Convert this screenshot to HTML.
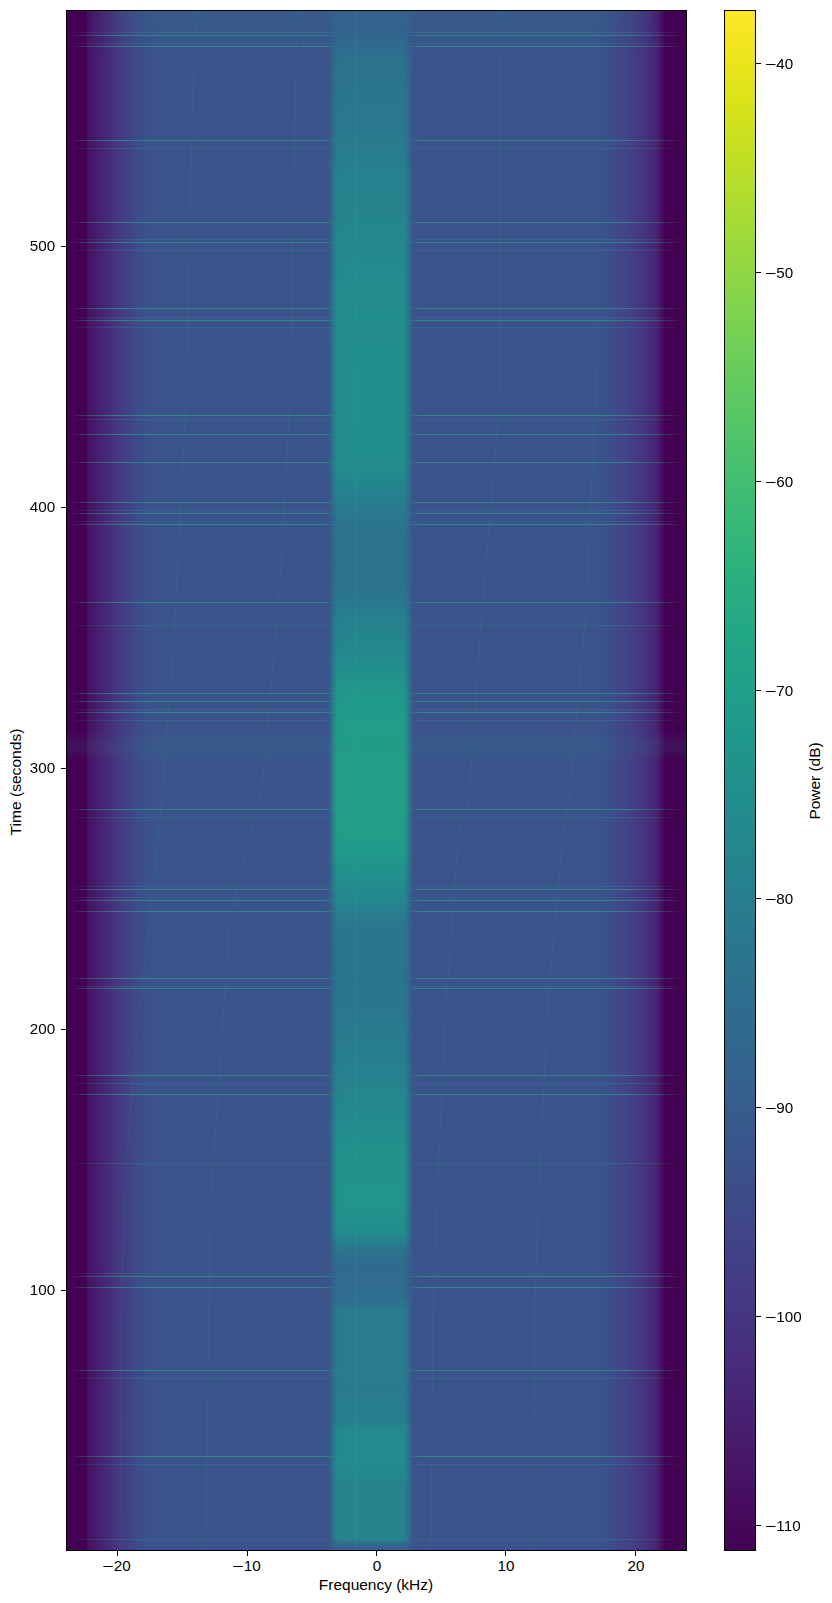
<!DOCTYPE html><html><head><meta charset="utf-8"><style>
html,body{margin:0;padding:0;background:#fff;width:832px;height:1603px;overflow:hidden;position:relative}
.t{position:absolute;font-family:"Liberation Sans",sans-serif;font-size:14.5px;color:#000;line-height:1;white-space:nowrap}
.k{position:absolute;background:#000}
.a{position:absolute}
.ln{position:absolute;left:0;width:619px;height:1px;-webkit-mask-image:linear-gradient(to right,rgba(0,0,0,0) 3px,rgba(0,0,0,.5) 15px,#000 50px,#000 258px,rgba(0,0,0,.15) 268px,rgba(0,0,0,.15) 342px,#000 352px,#000 560px,rgba(0,0,0,.5) 600px,rgba(0,0,0,0) 615px);mask-image:linear-gradient(to right,rgba(0,0,0,0) 3px,rgba(0,0,0,.5) 15px,#000 50px,#000 258px,rgba(0,0,0,.15) 268px,rgba(0,0,0,.15) 342px,#000 352px,#000 560px,rgba(0,0,0,.5) 600px,rgba(0,0,0,0) 615px)}
.s1{background:#2d9a89;opacity:.7}
.s2{background:#2c958b;opacity:.3}
.m{display:inline-block;width:8.4px;height:1.2px;background:#000;vertical-align:middle;margin:0 1.3px 0 0.2px;position:relative;top:-0.6px}
#plot{position:absolute;left:67px;top:11px;width:619px;height:1539px;overflow:hidden}
#frame{position:absolute;left:66px;top:10px;width:619px;height:1539px;border:1px solid #000}
#cbar{position:absolute;left:725px;top:11px;width:30px;height:1539px}
#cframe{position:absolute;left:724px;top:10px;width:30px;height:1539px;border:1px solid #000}
</style></head><body>

<div id="cbar" style="background:linear-gradient(to bottom,#fde725 0.00%,#ece51b 3.12%,#d8e219 6.25%,#c2df23 9.38%,#addc30 12.50%,#98d83e 15.62%,#84d44b 18.75%,#70cf57 21.88%,#5ec962 25.00%,#4ec36b 28.12%,#3fbc73 31.25%,#32b67a 34.38%,#28ae80 37.50%,#22a785 40.62%,#1fa088 43.75%,#1f988b 46.88%,#21918c 50.00%,#23898e 53.12%,#26828e 56.25%,#297a8e 59.38%,#2c728e 62.50%,#2f6b8e 65.62%,#33638d 68.75%,#375b8d 71.88%,#3b528b 75.00%,#3e4989 78.12%,#424086 81.25%,#453781 84.38%,#472d7b 87.50%,#482374 90.62%,#48186a 93.75%,#470d60 96.88%,#440154 100.00%)"></div>
<div id="cframe"></div>
<div id="plot">
<div class="a" style="left:0;top:0;width:619px;height:1539px;background:linear-gradient(to right,#440154 0.50px,#440154 11.50px,#440154 19.50px,#471164 20.50px,#471e6f 30.50px,#462e7b 43.50px,#433d83 55.50px,#3e4988 68.50px,#3b518a 81.50px,#3a548b 91.50px,#3a548b 526.50px,#3b508a 538.50px,#3f4888 550.50px,#433d83 568.50px,#45317d 580.50px,#472171 590.50px,#460d60 595.50px,#440154 597.50px,#440154 598.50px,#440154 618.50px)"></div>
<div class="a" style="left:259px;top:0;width:90px;height:1539px;background:linear-gradient(to bottom,#355e8d 0px,#355e8d 4px,#355f8d 8px,#355f8d 12px,#34608d 16px,#34618d 20px,#33638d 24px,#32668d 28px,#31688e 32px,#306b8e 36px,#2e6d8e 40px,#2d6f8e 44px,#2c728e 48px,#2c738e 52px,#2c738e 56px,#2c738e 60px,#2c748e 64px,#2c748e 68px,#2b748e 72px,#2b758e 76px,#2b758e 80px,#2b758e 84px,#2b758e 88px,#2b768e 92px,#2b768e 96px,#2a778e 100px,#2a778e 104px,#2a788e 108px,#2a788e 112px,#2a798e 116px,#29798e 120px,#297a8e 124px,#297a8e 128px,#297b8e 132px,#287c8e 136px,#287d8e 140px,#287e8e 144px,#277f8e 148px,#27808e 152px,#27808e 156px,#26818e 160px,#26818e 164px,#26828e 168px,#26828e 172px,#26828e 176px,#26838e 180px,#26838e 184px,#26838e 188px,#25838e 192px,#25848e 196px,#25848e 200px,#25858e 204px,#25858e 208px,#25858d 212px,#25868d 216px,#24868d 220px,#24878d 224px,#24878d 228px,#24878d 232px,#24888d 236px,#24888d 240px,#24898d 244px,#23898d 248px,#238a8d 252px,#238a8d 256px,#238a8d 260px,#238b8d 264px,#238b8d 268px,#238b8d 272px,#238c8d 276px,#238c8d 280px,#238c8d 284px,#238c8d 288px,#228c8d 292px,#228c8d 296px,#228c8d 300px,#228d8d 304px,#228d8d 308px,#228d8d 312px,#228d8c 316px,#228d8c 320px,#228d8c 324px,#228d8c 328px,#228e8c 332px,#228e8c 336px,#228e8c 340px,#228e8c 344px,#228e8c 348px,#228e8c 352px,#228e8c 356px,#228f8c 360px,#228f8c 364px,#228f8c 368px,#228f8c 372px,#228f8c 376px,#228f8c 380px,#228f8c 384px,#228f8c 388px,#228f8c 392px,#228f8c 396px,#228f8c 400px,#228f8c 404px,#228f8c 408px,#228f8c 412px,#228f8c 416px,#228e8c 420px,#228e8c 424px,#228e8c 428px,#228e8c 432px,#228e8c 436px,#228e8c 440px,#228e8c 444px,#228d8c 448px,#228d8c 452px,#228d8c 456px,#228c8d 460px,#238a8d 464px,#24888d 468px,#24868d 472px,#25848e 476px,#26828e 480px,#27808e 484px,#277e8e 488px,#287c8e 492px,#297a8e 496px,#2a798e 500px,#2a778e 504px,#2b758e 508px,#2b748e 512px,#2c748e 516px,#2c748e 520px,#2c748e 524px,#2c738e 528px,#2c738e 532px,#2c738e 536px,#2c738e 540px,#2c738e 544px,#2c738e 548px,#2c728e 552px,#2c738e 556px,#2c738e 560px,#2c738e 564px,#2c738e 568px,#2c748e 572px,#2c748e 576px,#2c748e 580px,#2b748e 584px,#2a778e 588px,#29798e 592px,#287c8e 596px,#277e8e 600px,#26818e 604px,#26818e 608px,#26828e 612px,#26838e 616px,#25848e 620px,#25858e 624px,#25868d 628px,#24868d 632px,#24878d 636px,#24888d 640px,#238a8d 644px,#238b8d 648px,#228d8d 652px,#228e8c 656px,#21908c 660px,#21928c 664px,#21938b 668px,#21958b 672px,#20968a 676px,#20988a 680px,#20988a 684px,#20998a 688px,#20998a 692px,#209a89 696px,#209a89 700px,#209b89 704px,#209c89 708px,#209c89 712px,#219d88 716px,#219d88 720px,#219e88 724px,#219e88 728px,#219f88 732px,#219f88 736px,#219f88 740px,#219f87 744px,#219f87 748px,#219f87 752px,#219f87 756px,#219f87 760px,#21a087 764px,#21a087 768px,#21a087 772px,#21a087 776px,#21a087 780px,#21a087 784px,#21a087 788px,#21a087 792px,#21a087 796px,#219f87 800px,#219f88 804px,#219e88 808px,#219e88 812px,#219d88 816px,#219d88 820px,#219d88 824px,#209c89 828px,#209c89 832px,#209b89 836px,#209b89 840px,#20998a 844px,#20978a 848px,#20968b 852px,#21948b 856px,#21928b 860px,#21918c 864px,#228f8c 868px,#228d8c 872px,#238c8d 876px,#238a8d 880px,#24888d 884px,#24878d 888px,#25858e 892px,#26838e 896px,#27808e 900px,#287d8e 904px,#297a8e 908px,#2a778e 912px,#2b768e 916px,#2b768e 920px,#2b768e 924px,#2b768e 928px,#2b758e 932px,#2b758e 936px,#2b758e 940px,#2b758e 944px,#2b758e 948px,#2b758e 952px,#2b758e 956px,#2b758e 960px,#2b748e 964px,#2b748e 968px,#2b748e 972px,#2b758e 976px,#2b758e 980px,#2b758e 984px,#2b768e 988px,#2b768e 992px,#2b768e 996px,#2a778e 1000px,#2a788e 1004px,#2a788e 1008px,#29798e 1012px,#297a8e 1016px,#297b8e 1020px,#287b8e 1024px,#287c8e 1028px,#287d8e 1032px,#287e8e 1036px,#277e8e 1040px,#277f8e 1044px,#277f8e 1048px,#27808e 1052px,#26818e 1056px,#26818e 1060px,#26828e 1064px,#26838e 1068px,#25838e 1072px,#25848e 1076px,#25858e 1080px,#25868d 1084px,#24868d 1088px,#24878d 1092px,#24888d 1096px,#24898d 1100px,#23898d 1104px,#238a8d 1108px,#238b8d 1112px,#228c8d 1116px,#228d8c 1120px,#228e8c 1124px,#228f8c 1128px,#21908c 1132px,#21928c 1136px,#21928b 1140px,#21928b 1144px,#21938b 1148px,#21938b 1152px,#21938b 1156px,#21938b 1160px,#21938b 1164px,#21938b 1168px,#21938b 1172px,#21948b 1176px,#21948b 1180px,#21948b 1184px,#21948b 1188px,#21948b 1192px,#21938b 1196px,#21928c 1200px,#21918c 1204px,#21918c 1208px,#21908c 1212px,#228f8c 1216px,#228d8c 1220px,#24888d 1224px,#26838e 1228px,#277e8e 1232px,#29798e 1236px,#2c748e 1240px,#2d718e 1244px,#2e6f8e 1248px,#2f6c8e 1252px,#2f6b8e 1256px,#2f6b8e 1260px,#2f6c8e 1264px,#2f6c8e 1268px,#2f6c8e 1272px,#2f6c8e 1276px,#2f6d8e 1280px,#2f6d8e 1284px,#2e6e8e 1288px,#2c738e 1292px,#2a788e 1296px,#297b8e 1300px,#297b8e 1304px,#297b8e 1308px,#297b8e 1312px,#297b8e 1316px,#297b8e 1320px,#297b8e 1324px,#297b8e 1328px,#297b8e 1332px,#297b8e 1336px,#297b8e 1340px,#297b8e 1344px,#297b8e 1348px,#297b8e 1352px,#297b8e 1356px,#297b8e 1360px,#297b8e 1364px,#297b8e 1368px,#297b8e 1372px,#287b8e 1376px,#287c8e 1380px,#287c8e 1384px,#287d8e 1388px,#287d8e 1392px,#287e8e 1396px,#287e8e 1400px,#277e8e 1404px,#277f8e 1408px,#26818e 1412px,#25858e 1416px,#24888d 1420px,#238b8d 1424px,#238b8d 1428px,#238b8d 1432px,#238b8d 1436px,#238b8d 1440px,#238b8d 1444px,#238b8d 1448px,#238b8d 1452px,#238a8d 1456px,#24888d 1460px,#24878d 1464px,#25858e 1468px,#25848e 1472px,#25848e 1476px,#25848e 1480px,#25848e 1484px,#25848e 1488px,#25848e 1492px,#25848e 1496px,#25848e 1500px,#25848e 1504px,#25848e 1508px,#25848e 1512px,#25848e 1516px,#25848e 1520px,#25848e 1524px,#25848e 1528px,#2d708e 1532px,#34618d 1536px);-webkit-mask-image:linear-gradient(to right,rgba(0,0,0,0.00) 0px,rgba(0,0,0,0.02) 2px,rgba(0,0,0,0.18) 4px,rgba(0,0,0,0.43) 6px,rgba(0,0,0,0.70) 8px,rgba(0,0,0,0.91) 10px,rgba(0,0,0,1.00) 12px,rgba(0,0,0,1.00) 14px,rgba(0,0,0,1.00) 16px,rgba(0,0,0,1.00) 18px,rgba(0,0,0,1.00) 20px,rgba(0,0,0,1.00) 22px,rgba(0,0,0,1.00) 24px,rgba(0,0,0,1.00) 26px,rgba(0,0,0,1.00) 28px,rgba(0,0,0,1.00) 30px,rgba(0,0,0,1.00) 32px,rgba(0,0,0,1.00) 34px,rgba(0,0,0,1.00) 36px,rgba(0,0,0,1.00) 38px,rgba(0,0,0,1.00) 40px,rgba(0,0,0,1.00) 42px,rgba(0,0,0,1.00) 44px,rgba(0,0,0,1.00) 46px,rgba(0,0,0,1.00) 48px,rgba(0,0,0,1.00) 50px,rgba(0,0,0,1.00) 52px,rgba(0,0,0,1.00) 54px,rgba(0,0,0,1.00) 56px,rgba(0,0,0,1.00) 58px,rgba(0,0,0,1.00) 60px,rgba(0,0,0,1.00) 62px,rgba(0,0,0,1.00) 64px,rgba(0,0,0,1.00) 66px,rgba(0,0,0,1.00) 68px,rgba(0,0,0,1.00) 70px,rgba(0,0,0,1.00) 72px,rgba(0,0,0,1.00) 74px,rgba(0,0,0,1.00) 76px,rgba(0,0,0,0.98) 78px,rgba(0,0,0,0.84) 80px,rgba(0,0,0,0.62) 82px,rgba(0,0,0,0.38) 84px,rgba(0,0,0,0.16) 86px,rgba(0,0,0,0.02) 88px,rgba(0,0,0,0.00) 90px);mask-image:linear-gradient(to right,rgba(0,0,0,0.00) 0px,rgba(0,0,0,0.02) 2px,rgba(0,0,0,0.18) 4px,rgba(0,0,0,0.43) 6px,rgba(0,0,0,0.70) 8px,rgba(0,0,0,0.91) 10px,rgba(0,0,0,1.00) 12px,rgba(0,0,0,1.00) 14px,rgba(0,0,0,1.00) 16px,rgba(0,0,0,1.00) 18px,rgba(0,0,0,1.00) 20px,rgba(0,0,0,1.00) 22px,rgba(0,0,0,1.00) 24px,rgba(0,0,0,1.00) 26px,rgba(0,0,0,1.00) 28px,rgba(0,0,0,1.00) 30px,rgba(0,0,0,1.00) 32px,rgba(0,0,0,1.00) 34px,rgba(0,0,0,1.00) 36px,rgba(0,0,0,1.00) 38px,rgba(0,0,0,1.00) 40px,rgba(0,0,0,1.00) 42px,rgba(0,0,0,1.00) 44px,rgba(0,0,0,1.00) 46px,rgba(0,0,0,1.00) 48px,rgba(0,0,0,1.00) 50px,rgba(0,0,0,1.00) 52px,rgba(0,0,0,1.00) 54px,rgba(0,0,0,1.00) 56px,rgba(0,0,0,1.00) 58px,rgba(0,0,0,1.00) 60px,rgba(0,0,0,1.00) 62px,rgba(0,0,0,1.00) 64px,rgba(0,0,0,1.00) 66px,rgba(0,0,0,1.00) 68px,rgba(0,0,0,1.00) 70px,rgba(0,0,0,1.00) 72px,rgba(0,0,0,1.00) 74px,rgba(0,0,0,1.00) 76px,rgba(0,0,0,0.98) 78px,rgba(0,0,0,0.84) 80px,rgba(0,0,0,0.62) 82px,rgba(0,0,0,0.38) 84px,rgba(0,0,0,0.16) 86px,rgba(0,0,0,0.02) 88px,rgba(0,0,0,0.00) 90px)"></div>
<div class="a" style="left:0;top:0;width:619px;height:45px;background:linear-gradient(to bottom,rgba(45,120,142,0.22),rgba(45,120,142,0));-webkit-mask-image:linear-gradient(to right,transparent 20px,#000 80px,#000 530px,transparent 595px)"></div>
<svg class="a" style="left:0;top:0" width="619" height="1539" viewBox="67 11 619 1539"><polyline fill="none" stroke="#2a9a8a" stroke-opacity="0.16" stroke-width="1.1" points="197,11 193,82 186,400 174,638 162,800 148,938 138,1020 126,1164 121,1308 120,1549"/><polyline fill="none" stroke="#2a9a8a" stroke-opacity="0.16" stroke-width="1.1" points="297,11 290,400 280,585 262,790 230,914 220,1068 210,1212 206,1549"/><polyline fill="none" stroke="#2a9a8a" stroke-opacity="0.16" stroke-width="1.1" points="501,11 499,410 482,610 469,800 459,830 446,1005 441,1110 433,1300 431,1549"/><polyline fill="none" stroke="#2a9a8a" stroke-opacity="0.16" stroke-width="1.1" points="600,300 586,610 569,800 563,836 548,1000 538,1210 535,1300 533,1549"/></svg>
<div class="a" style="left:0;top:720px;width:619px;height:30px;background:linear-gradient(to bottom,rgba(42,130,142,0),rgba(42,130,142,0.12) 40%,rgba(42,130,142,0.12) 60%,rgba(42,130,142,0))"></div>
<div class="a" style="left:288px;top:0;width:1px;height:1539px;background:#3fbc73;opacity:0.15"></div>
<div class="ln s1" style="top:24px"></div>
<div class="ln s1" style="top:35px"></div>
<div class="ln s1" style="top:129px"></div>
<div class="ln s1" style="top:211px"></div>
<div class="ln s1" style="top:231px"></div>
<div class="ln s1" style="top:297px"></div>
<div class="ln s1" style="top:309px"></div>
<div class="ln s1" style="top:404px"></div>
<div class="ln s1" style="top:423px"></div>
<div class="ln s1" style="top:451px"></div>
<div class="ln s1" style="top:491px"></div>
<div class="ln s1" style="top:502px"></div>
<div class="ln s1" style="top:513px"></div>
<div class="ln s1" style="top:591px"></div>
<div class="ln s1" style="top:682px"></div>
<div class="ln s1" style="top:690px"></div>
<div class="ln s1" style="top:701px"></div>
<div class="ln s1" style="top:798px"></div>
<div class="ln s1" style="top:878px"></div>
<div class="ln s1" style="top:889px"></div>
<div class="ln s1" style="top:900px"></div>
<div class="ln s1" style="top:967px"></div>
<div class="ln s1" style="top:977px"></div>
<div class="ln s1" style="top:1064px"></div>
<div class="ln s1" style="top:1083px"></div>
<div class="ln s1" style="top:1265px"></div>
<div class="ln s1" style="top:1276px"></div>
<div class="ln s1" style="top:1359px"></div>
<div class="ln s1" style="top:1445px"></div>
<div class="ln s2" style="top:21px"></div>
<div class="ln s2" style="top:32px"></div>
<div class="ln s2" style="top:137px"></div>
<div class="ln s2" style="top:228px"></div>
<div class="ln s2" style="top:239px"></div>
<div class="ln s2" style="top:306px"></div>
<div class="ln s2" style="top:316px"></div>
<div class="ln s2" style="top:408px"></div>
<div class="ln s2" style="top:499px"></div>
<div class="ln s2" style="top:510px"></div>
<div class="ln s2" style="top:614px"></div>
<div class="ln s2" style="top:698px"></div>
<div class="ln s2" style="top:709px"></div>
<div class="ln s2" style="top:806px"></div>
<div class="ln s2" style="top:875px"></div>
<div class="ln s2" style="top:886px"></div>
<div class="ln s2" style="top:975px"></div>
<div class="ln s2" style="top:1072px"></div>
<div class="ln s2" style="top:1152px"></div>
<div class="ln s2" style="top:1262px"></div>
<div class="ln s2" style="top:1367px"></div>
<div class="ln s2" style="top:1453px"></div>
<div class="ln s2" style="top:1528px"></div>
</div>
<div id="frame"></div>
<div class="k" style="left:61px;top:1289.9px;width:5px;height:1px"></div>
<div class="t" style="right:776.4px;top:1283.4px;transform:scaleX(1.05);transform-origin:100% 0">100</div>
<div class="k" style="left:61px;top:1028.9px;width:5px;height:1px"></div>
<div class="t" style="right:776.4px;top:1022.4px;transform:scaleX(1.05);transform-origin:100% 0">200</div>
<div class="k" style="left:61px;top:767.8px;width:5px;height:1px"></div>
<div class="t" style="right:776.4px;top:761.3px;transform:scaleX(1.05);transform-origin:100% 0">300</div>
<div class="k" style="left:61px;top:506.8px;width:5px;height:1px"></div>
<div class="t" style="right:776.4px;top:500.3px;transform:scaleX(1.05);transform-origin:100% 0">400</div>
<div class="k" style="left:61px;top:245.7px;width:5px;height:1px"></div>
<div class="t" style="right:776.4px;top:239.2px;transform:scaleX(1.05);transform-origin:100% 0">500</div>
<div class="k" style="left:117.0px;top:1551px;width:1px;height:5px"></div>
<div class="t" style="left:116.9px;top:1559px;transform:translateX(-50%) scaleX(1.05)"><span class="m"></span>20</div>
<div class="k" style="left:247.0px;top:1551px;width:1px;height:5px"></div>
<div class="t" style="left:246.9px;top:1559px;transform:translateX(-50%) scaleX(1.05)"><span class="m"></span>10</div>
<div class="k" style="left:376.0px;top:1551px;width:1px;height:5px"></div>
<div class="t" style="left:376.5px;top:1559px;transform:translateX(-50%) scaleX(1.05)">0</div>
<div class="k" style="left:505.0px;top:1551px;width:1px;height:5px"></div>
<div class="t" style="left:505.5px;top:1559px;transform:translateX(-50%) scaleX(1.05)">10</div>
<div class="k" style="left:635.0px;top:1551px;width:1px;height:5px"></div>
<div class="t" style="left:635.5px;top:1559px;transform:translateX(-50%) scaleX(1.05)">20</div>
<div class="t" style="left:375.6px;top:1578px;transform:translateX(-50%) scaleX(1.067)">Frequency (kHz)</div>
<div class="t" style="left:16.4px;top:781.5px;transform:translate(-50%,-50%) rotate(-90deg) scaleX(1.075)">Time (seconds)</div>
<div class="k" style="left:756px;top:63px;width:5px;height:1px"></div>
<div class="t" style="left:765.6px;top:57px;transform:scaleX(1.05);transform-origin:0 0"><span class="m"></span>40</div>
<div class="k" style="left:756px;top:272px;width:5px;height:1px"></div>
<div class="t" style="left:765.6px;top:266px;transform:scaleX(1.05);transform-origin:0 0"><span class="m"></span>50</div>
<div class="k" style="left:756px;top:481px;width:5px;height:1px"></div>
<div class="t" style="left:765.6px;top:475px;transform:scaleX(1.05);transform-origin:0 0"><span class="m"></span>60</div>
<div class="k" style="left:756px;top:690px;width:5px;height:1px"></div>
<div class="t" style="left:765.6px;top:684px;transform:scaleX(1.05);transform-origin:0 0"><span class="m"></span>70</div>
<div class="k" style="left:756px;top:898px;width:5px;height:1px"></div>
<div class="t" style="left:765.6px;top:892px;transform:scaleX(1.05);transform-origin:0 0"><span class="m"></span>80</div>
<div class="k" style="left:756px;top:1107px;width:5px;height:1px"></div>
<div class="t" style="left:765.6px;top:1101px;transform:scaleX(1.05);transform-origin:0 0"><span class="m"></span>90</div>
<div class="k" style="left:756px;top:1316px;width:5px;height:1px"></div>
<div class="t" style="left:765.6px;top:1310px;transform:scaleX(1.05);transform-origin:0 0"><span class="m"></span>100</div>
<div class="k" style="left:756px;top:1525px;width:5px;height:1px"></div>
<div class="t" style="left:765.6px;top:1519px;transform:scaleX(1.05);transform-origin:0 0"><span class="m"></span>110</div>
<div class="t" style="left:814.8px;top:781.3px;transform:translate(-50%,-50%) rotate(-90deg) scaleX(1.064)">Power (dB)</div>
</body></html>
